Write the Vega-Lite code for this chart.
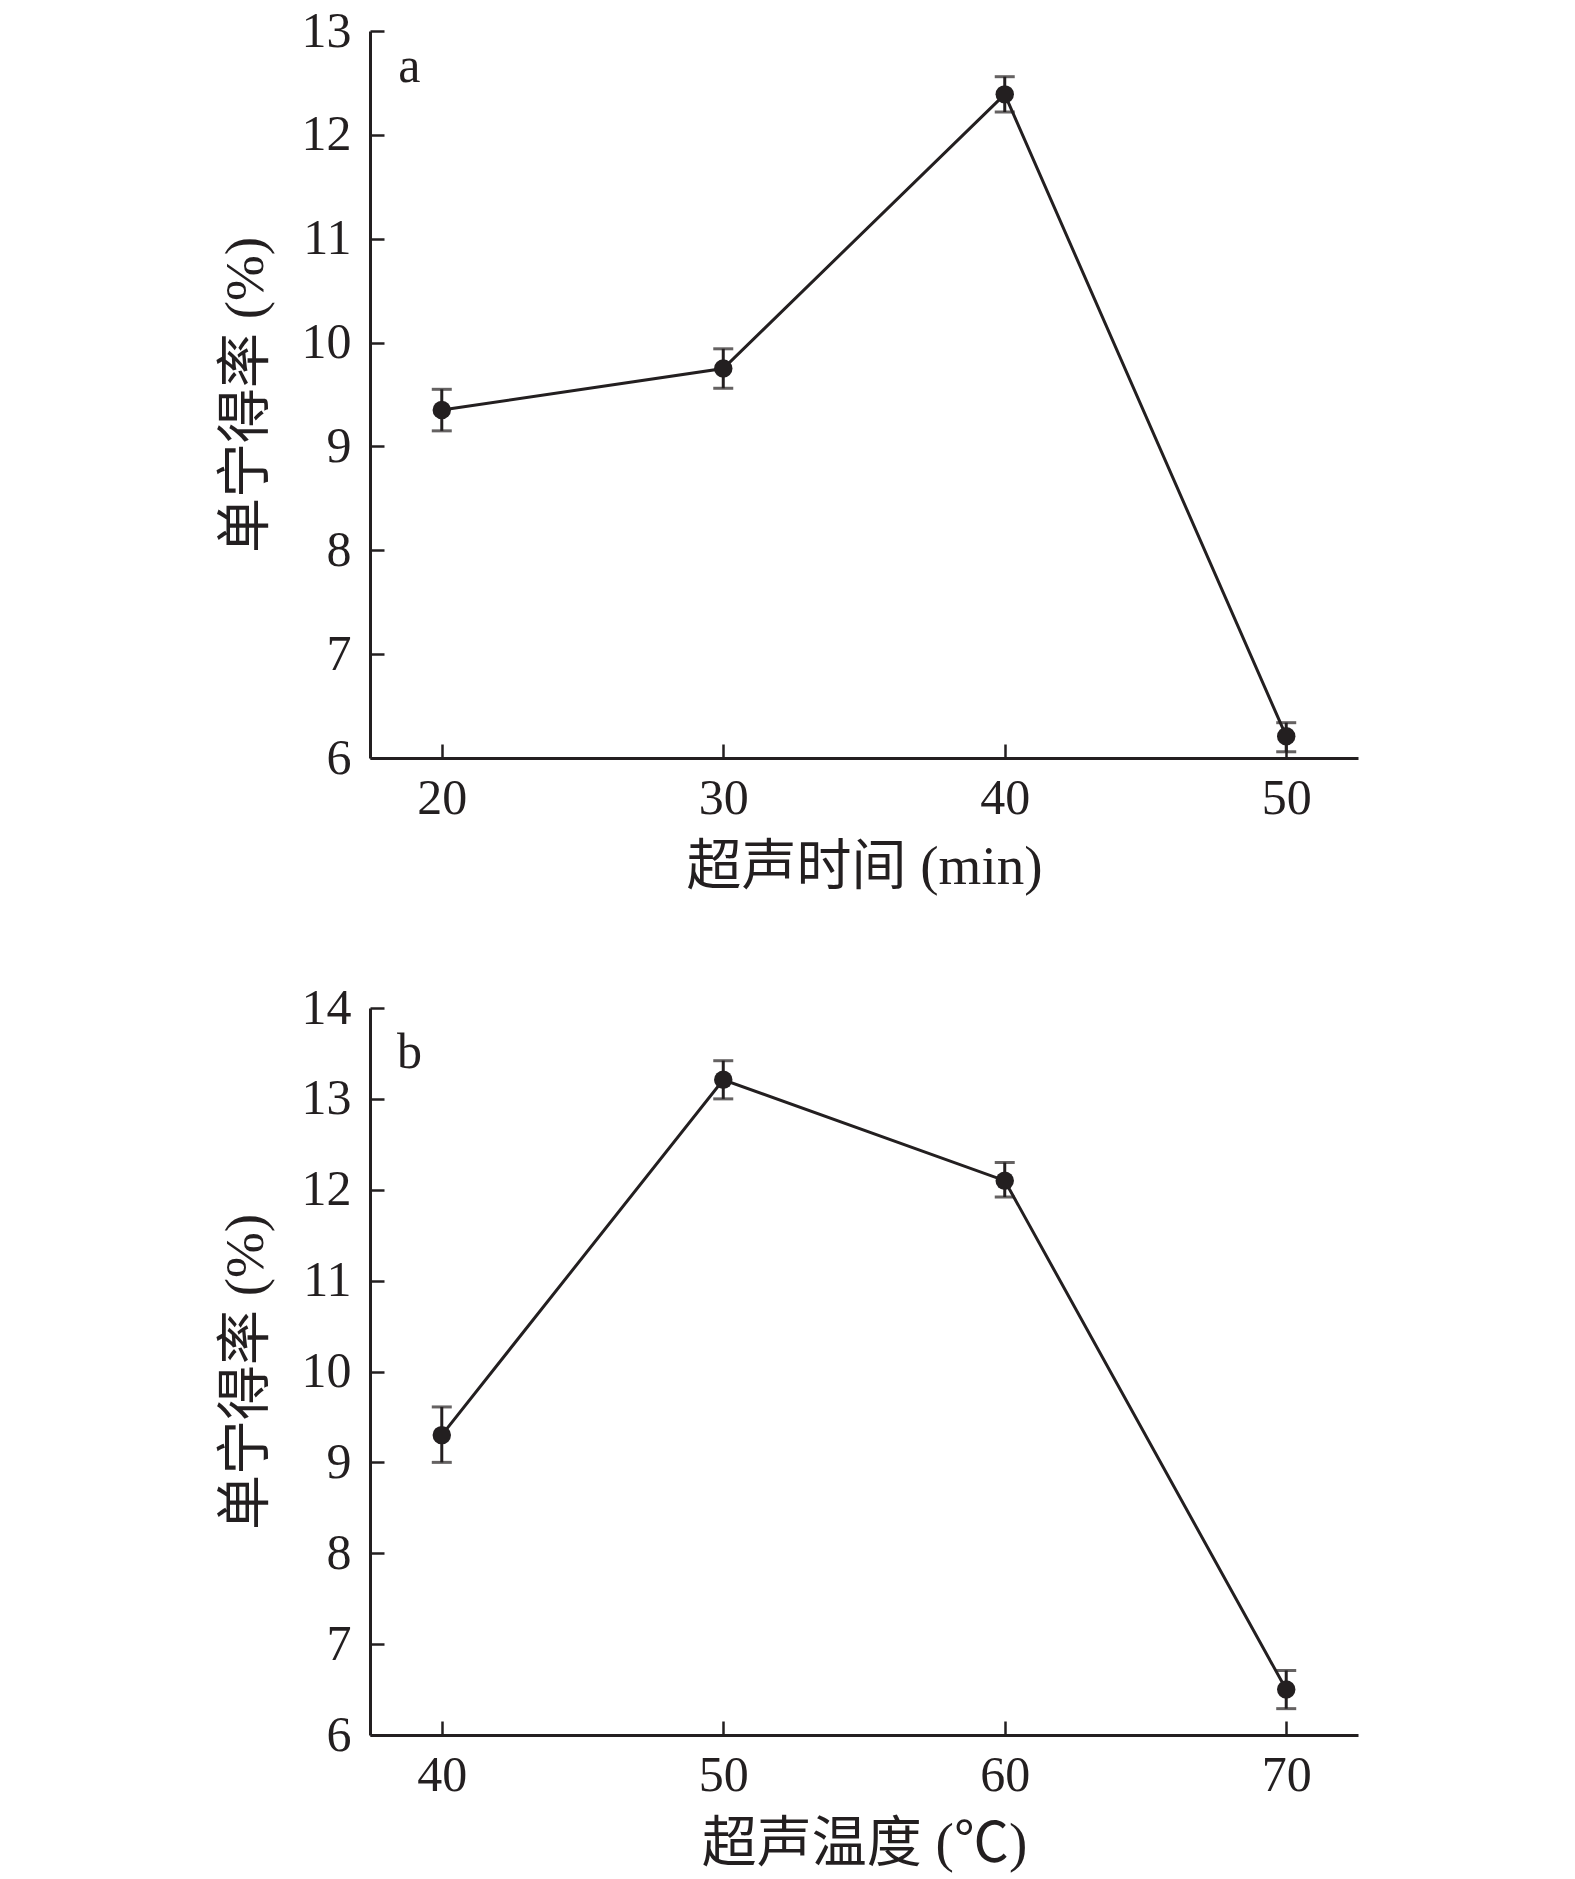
{
  "$schema": "https://vega.github.io/schema/vega-lite/v6.json",
  "background": "white",
  "padding": {"left": 218, "top": 6, "right": 10, "bottom": 4},
  "datasets": {
    "a": [
      {"t": 20, "v": 9.35, "lo": 9.15, "hi": 9.55},
      {"t": 30, "v": 9.75, "lo": 9.56, "hi": 9.94},
      {"t": 40, "v": 12.39, "lo": 12.22, "hi": 12.56},
      {"t": 50, "v": 6.21, "lo": 6.06, "hi": 6.34}
    ],
    "b": [
      {"t": 40, "v": 9.3, "lo": 9.0, "hi": 9.61},
      {"t": 50, "v": 13.21, "lo": 13.0, "hi": 13.42},
      {"t": 60, "v": 12.1, "lo": 11.92, "hi": 12.3},
      {"t": 70, "v": 6.5, "lo": 6.29, "hi": 6.71}
    ],
    "labA": [{"x": 18.85, "y": 12.65, "s": "a"}],
    "labB": [{"x": 38.85, "y": 13.5, "s": "b"}]
  },
  "config": {
    "view": {"stroke": null},
    "font": "Liberation Serif",
    "axis": {
      "grid": false,
      "labelFont": "Liberation Serif",
      "labelFontSize": 50,
      "labelColor": "#231f20",
      "titleFont": "Liberation Serif, Noto Sans CJK SC",
      "titleFontSize": 55,
      "titleFontWeight": "normal",
      "titleColor": "#231f20",
      "domainColor": "#231f20",
      "domainWidth": 3,
      "tickColor": "#231f20",
      "tickWidth": 2.5,
      "ticks": true,
      "tickSize": -14,
      "format": "d"
    }
  },
  "vconcat": [
    {
      "width": 988,
      "height": 727,
      "layer": [
        {
          "data": {"name": "a"},
          "mark": {"type": "line", "color": "#231f20", "strokeWidth": 3},
          "encoding": {
            "x": {"field": "t", "type": "quantitative", "scale": {"domain": [17.45, 52.55], "nice": false, "zero": false},
                  "axis": {"values": [20, 30, 40, 50], "title": "超声时间 (min)", "titlePadding": 17, "labelPadding": 29}},
            "y": {"field": "v", "type": "quantitative", "scale": {"domain": [6, 13], "nice": false, "zero": false},
                  "axis": {"values": [6, 7, 8, 9, 10, 11, 12, 13], "title": "单宁得率 (%)", "titlePadding": 27, "labelPadding": 33}}
          }
        },
        {
          "data": {"name": "a"},
          "mark": {"type": "errorbar", "color": "#231f20", "ticks": {"size": 20, "thickness": 3, "color": "#231f20"}, "rule": {"strokeWidth": 3}},
          "encoding": {
            "x": {"field": "t", "type": "quantitative"},
            "y": {"field": "lo", "type": "quantitative", "title": "单宁得率 (%)"},
            "y2": {"field": "hi"}
          }
        },
        {
          "data": {"name": "a"},
          "mark": {"type": "point", "filled": true, "color": "#231f20", "opacity": 1, "size": 340},
          "encoding": {
            "x": {"field": "t", "type": "quantitative"},
            "y": {"field": "v", "type": "quantitative"}
          }
        },
        {
          "data": {"name": "labA"},
          "mark": {"type": "text", "fontSize": 50, "font": "Liberation Serif", "color": "#231f20", "baseline": "middle", "align": "center"},
          "encoding": {
            "x": {"field": "x", "type": "quantitative", "title": "超声时间 (min)"},
            "y": {"field": "y", "type": "quantitative", "title": "单宁得率 (%)"},
            "text": {"field": "s"}
          }
        }
      ]
    },
    {
      "width": 988,
      "height": 727,
      "layer": [
        {
          "data": {"name": "b"},
          "mark": {"type": "line", "color": "#231f20", "strokeWidth": 3},
          "encoding": {
            "x": {"field": "t", "type": "quantitative", "scale": {"domain": [37.45, 72.55], "nice": false, "zero": false},
                  "axis": {"values": [40, 50, 60, 70], "title": "超声温度 (℃)", "titlePadding": 17, "labelPadding": 29}},
            "y": {"field": "v", "type": "quantitative", "scale": {"domain": [6, 14], "nice": false, "zero": false},
                  "axis": {"values": [6, 7, 8, 9, 10, 11, 12, 13, 14], "title": "单宁得率 (%)", "titlePadding": 27, "labelPadding": 33}}
          }
        },
        {
          "data": {"name": "b"},
          "mark": {"type": "errorbar", "color": "#231f20", "ticks": {"size": 20, "thickness": 3, "color": "#231f20"}, "rule": {"strokeWidth": 3}},
          "encoding": {
            "x": {"field": "t", "type": "quantitative"},
            "y": {"field": "lo", "type": "quantitative", "title": "单宁得率 (%)"},
            "y2": {"field": "hi"}
          }
        },
        {
          "data": {"name": "b"},
          "mark": {"type": "point", "filled": true, "color": "#231f20", "opacity": 1, "size": 340},
          "encoding": {
            "x": {"field": "t", "type": "quantitative"},
            "y": {"field": "v", "type": "quantitative"}
          }
        },
        {
          "data": {"name": "labB"},
          "mark": {"type": "text", "fontSize": 50, "font": "Liberation Serif", "color": "#231f20", "baseline": "middle", "align": "center"},
          "encoding": {
            "x": {"field": "x", "type": "quantitative", "title": "超声温度 (℃)"},
            "y": {"field": "y", "type": "quantitative", "title": "单宁得率 (%)"},
            "text": {"field": "s"}
          }
        }
      ]
    }
  ],
  "spacing": 89
}
